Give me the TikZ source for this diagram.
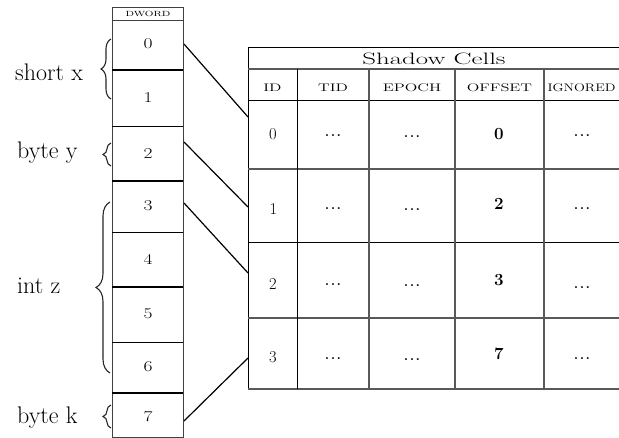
\documentclass[tikz,border=0pt]{standalone}
\usepackage{graphicx}
\usetikzlibrary{decorations.pathreplacing}
\newcommand{\hs}[2]{\scalebox{#1}[1]{#2}}
\tikzset{
  lbl/.style={anchor=west, inner sep=0pt, font=\fontsize{24}{28}\selectfont},
  dnum/.style={inner sep=0pt, font=\fontsize{15}{17}\selectfont},
  dhdr/.style={inner sep=0pt, font=\fontsize{7.5}{8}\selectfont},
  ttl/.style={inner sep=0pt, font=\fontsize{16.5}{18}\selectfont},
  colh/.style={inner sep=0pt, font=\fontsize{11}{13}\selectfont},
  idnum/.style={inner sep=0pt, font=\fontsize{16.5}{18}\selectfont},
  offnum/.style={inner sep=0pt, font=\fontsize{17}{18}\selectfont\bfseries},
  dots/.style={inner sep=0pt, font=\fontsize{13}{16}\selectfont\bfseries},
  colline/.style={draw=black!75, line width=0.9pt},
  septhick/.style={draw=black, line width=1.6pt},
  septhin/.style={draw=black, line width=0.8pt},
  tblack/.style={draw=black, line width=1pt},
  tgray/.style={draw=black!65, line width=1.1pt},
  conn/.style={draw=black, line width=1.2pt},
  brc/.style={decorate, decoration={brace, amplitude=#1}, draw=black!85, line width=1.1pt},
}
\newcommand{\mydots}{\hs{1.1}{.\kern0.1em.\kern0.1em.}}
\begin{document}
\begin{tikzpicture}[x=1pt,y=-1pt]
\useasboundingbox (0,0) rectangle (619,438);
% ---------- DWORD column ----------
\draw[colline] (112,7) rectangle (183,437);
\draw[colline] (112,20) -- (183,20);
\foreach \yy in {70,181,287,393} \draw[septhick] (112,\yy) -- (183,\yy);
\foreach \yy in {126,232,342} \draw[septhin] (112,\yy) -- (183,\yy);
\node[dhdr] (hdr) at (148,14) {\hs{1.4}{DWORD}};
\node[dnum] (m0) at (148,44) {\hs{1.3}{0}};
\node[dnum] (m1) at (148,98) {\hs{1.3}{1}};
\node[dnum] (m2) at (148,154) {\hs{1.3}{2}};
\node[dnum] (m3) at (148,206) {\hs{1.3}{3}};
\node[dnum] (m4) at (148,259) {\hs{1.3}{4}};
\node[dnum] (m5) at (148,314) {\hs{1.3}{5}};
\node[dnum] (m6) at (148,367) {\hs{1.3}{6}};
\node[dnum] (m7) at (148,417) {\hs{1.3}{7}};
% ---------- braces and labels ----------
\draw[brc=10] (111,99) -- (111,39);
\draw[brc=8] (111,166) -- (111,143);
\draw[brc=14] (110,373) -- (110,202);
\draw[brc=8] (111,428) -- (111,405);
\node[lbl] (lx) at (15,72) {short x};
\node[lbl] (ly) at (17,152.5) {byte y};
\node[lbl] (lz) at (17,285.5) {int z};
\node[lbl] (lk) at (17,418) {byte k};
% ---------- table ----------
\draw[tblack] (248,48) -- (625,48);
\draw[tblack] (248,48) -- (248,389);
\draw[tgray] (248,69) -- (625,69);
\draw[tblack] (248,101) -- (625,101);
\draw[tgray] (248,169) -- (625,169);
\draw[tblack] (248,243) -- (625,243);
\draw[tgray] (248,318) -- (625,318);
\draw[tgray] (248,389) -- (625,389);
\draw[tblack] (297,69) -- (297,389);
\foreach \xx in {369,455,544} \draw[tgray] (\xx,69) -- (\xx,389);
\node[ttl] (title) at (434,59) {\hs{1.63}{Shadow Cells}};
\node[colh] (hID) at (272.5,88) {\hs{1.5}{ID}};
\node[colh] (hTID) at (333,88) {\hs{1.5}{TID}};
\node[colh] (hEP) at (412,88) {\hs{1.5}{EPOCH}};
\node[colh] (hOF) at (499.5,88) {\hs{1.5}{OFFSET}};
\node[colh] (hIG) at (581.5,88) {\hs{1.3}{IGNORED}};
% rows
\node[idnum] (r0) at (273,134.5) {0};
\node[idnum] (r1) at (273.5,209) {1};
\node[idnum] (r2) at (273,284) {2};
\node[idnum] (r3) at (273,357) {3};
\node[offnum] (o0) at (499,134) {0};
\node[offnum] (o1) at (499,204) {2};
\node[offnum] (o2) at (499,280) {3};
\node[offnum] (o3) at (499,354) {7};
\foreach \nm/\yy in {0/136,1/209,2/285,3/359}{
  \node[dots] (t\nm) at (333,\yy) {\mydots};
  \node[dots] (e\nm) at (412,\yy+0.5) {\mydots};
}
\node[dots] (i0) at (582,136) {\mydots};
\node[dots] (i1) at (582,209) {\mydots};
\node[dots] (i2) at (582,288) {\mydots};
\node[dots] (i3) at (582,359) {\mydots};
% ---------- connectors ----------
\coordinate (a0) at (184,44);
\coordinate (b0) at (248,117);
\coordinate (a2) at (184,142);
\coordinate (b1) at (248,207);
\coordinate (a3) at (184,203);
\coordinate (b2) at (248,273);
\coordinate (a7) at (184,421);
\coordinate (b3) at (248,358);
\draw[conn] (a0) -- (b0);
\draw[conn] (a2) -- (b1);
\draw[conn] (a3) -- (b2);
\draw[conn] (a7) -- (b3);
\end{tikzpicture}
\end{document}
